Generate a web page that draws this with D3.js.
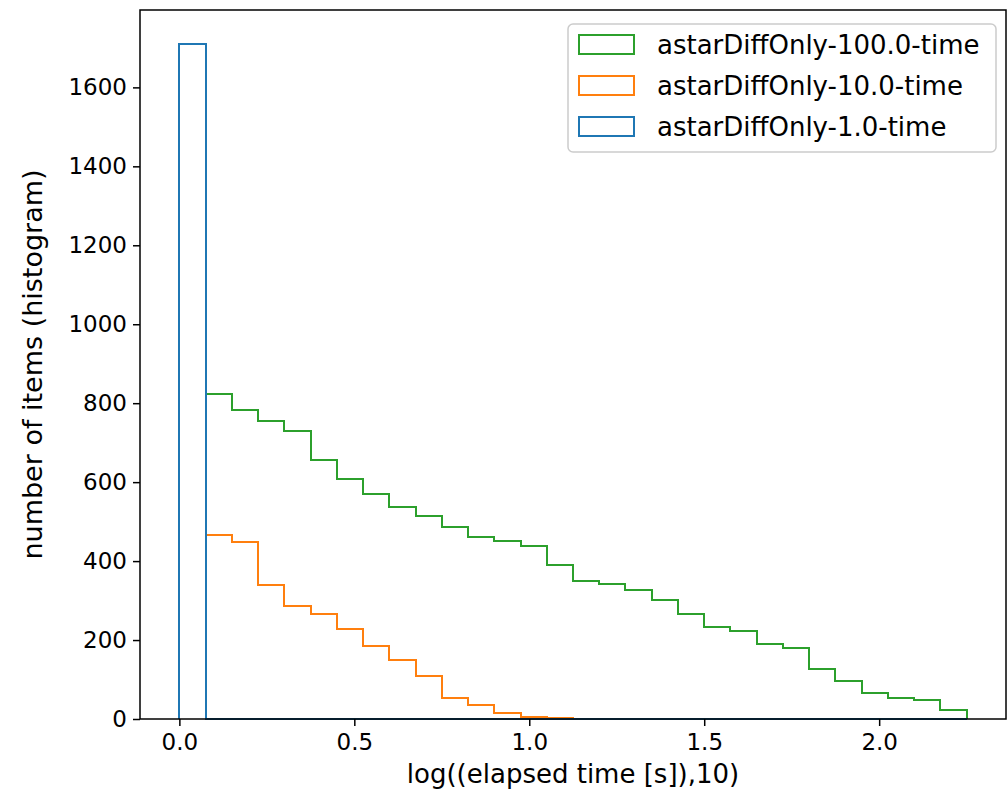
<!DOCTYPE html>
<html>
<head>
<meta charset="utf-8">
<script src="https://cdn.jsdelivr.net/npm/d3@7"></script>
<style>
  body { margin: 0; background: #fff; }
  text { font-family: "DejaVu Sans", sans-serif; fill: #000; }
</style>
</head>
<body>
<div id="viz-container"></div>
<script>
// histogram bins: 30 bins of width 0.075 starting at 0
let binWidth = 0.075;
let binEdges = d3.range(31).map(i => +(i * binWidth).toFixed(3));

let green100 = [1711, 824, 783, 754, 729, 657, 608, 569, 536, 515, 487, 462, 451, 439, 389,
                350, 341, 326, 302, 267, 233, 224, 190, 180, 127, 96, 67, 53, 47, 24];
let orange10 = [1711, 467, 448, 340, 285, 266, 229, 184, 150, 108, 53, 35, 14, 4, 3,
                0, 0, 0, 0, 0, 0, 0, 0, 0, 0, 0, 0, 0, 0, 0];
let blue1 = [1711, 0, 0, 0, 0, 0, 0, 0, 0, 0, 0, 0, 0, 0, 0,
             0, 0, 0, 0, 0, 0, 0, 0, 0, 0, 0, 0, 0, 0, 0];

let seriesNames = ["astarDiffOnly-100.0-time", "astarDiffOnly-10.0-time", "astarDiffOnly-1.0-time"];
let seriesColors = ["#2ca02c", "#ff7f0e", "#1f77b4"];
let seriesValues = [green100, orange10, blue1];

let xTicks = [0, 0.5, 1.0, 1.5, 2.0];
let yTicks = [0, 200, 400, 600, 800, 1000, 1200, 1400, 1600];

let plotL = 140, plotR = 1006, plotT = 10, plotB = 719;

let viz = d3.select("#viz-container")
  .append("svg")
    .attr("width", 1008)
    .attr("height", 802)
;

let x = d3.scaleLinear().domain([-0.1125, 2.3625]).range([plotL, plotR]);
let y = d3.scaleLinear().domain([0, 1796]).range([plotB, plotT]);

// step outlines, drawn so the first legend entry is at the back
// (snapped to whole pixels so the 2px strokes stay crisp)
let line = d3.line()
  .x(d => Math.round(x(d[0])))
  .y(d => Math.round(y(d[1])))
  .curve(d3.curveStepAfter)
;

seriesValues.forEach((vals, k) => {
  let pts = [[binEdges[0], 0]];
  vals.forEach((v, i) => pts.push([binEdges[i], v]));
  pts.push([binEdges[binEdges.length - 1], 0]);
  viz.append("path")
    .attr("d", line(pts))
    .attr("fill", "none")
    .attr("stroke", seriesColors[k])
    .attr("stroke-width", 2)
    .attr("stroke-linejoin", "miter")
  ;
});

// axes
let xAxis = viz.append("g")
  .attr("transform", "translate(0," + plotB + ")")
  .call(d3.axisBottom(x).tickValues(xTicks).tickFormat(d3.format(".1f")).tickSize(7).tickSizeOuter(0).tickPadding(8))
;
let yAxis = viz.append("g")
  .attr("transform", "translate(" + plotL + ",0)")
  .call(d3.axisLeft(y).tickValues(yTicks).tickFormat(d3.format("d")).tickSize(7).tickSizeOuter(0).tickPadding(6))
;
[xAxis, yAxis].forEach(a => {
  a.selectAll("text").style("font-size", "23px").attr("font-family", "DejaVu Sans");
  a.selectAll("line").attr("stroke", "#000").attr("stroke-width", 1.5);
  a.select(".domain").remove();
});

// frame
viz.append("rect")
  .attr("x", plotL)
  .attr("y", plotT)
  .attr("width", plotR - plotL)
  .attr("height", plotB - plotT)
  .attr("fill", "none")
  .attr("stroke", "#000")
  .attr("stroke-width", 1.5)
;

// axis labels
viz.append("text")
  .attr("x", (plotL + plotR) / 2)
  .attr("y", 783)
  .attr("text-anchor", "middle")
  .style("font-size", "26px")
  .text("log((elapsed time [s]),10)")
;
viz.append("text")
  .attr("transform", "translate(42," + (plotT + plotB) / 2 + ") rotate(-90)")
  .attr("text-anchor", "middle")
  .style("font-size", "27px")
  .text("number of items (histogram)")
;

// legend
let legend = viz.append("g");
legend.append("rect")
  .attr("x", 568)
  .attr("y", 24)
  .attr("width", 428)
  .attr("height", 128)
  .attr("rx", 5)
  .attr("fill", "#fff")
  .attr("fill-opacity", 0.8)
  .attr("stroke", "#ccc")
  .attr("stroke-width", 1.5)
;
seriesNames.forEach((name, k) => {
  let cy = 44.5 + k * 41;
  legend.append("rect")
    .attr("x", 579)
    .attr("y", cy - 9.5)
    .attr("width", 55)
    .attr("height", 19)
    .attr("fill", "none")
    .attr("stroke", seriesColors[k])
    .attr("stroke-width", 2)
  ;
  legend.append("text")
    .attr("x", 657)
    .attr("y", cy + 9.5)
    .style("font-size", "26px")
    .text(name)
  ;
});
</script>
</body>
</html>
